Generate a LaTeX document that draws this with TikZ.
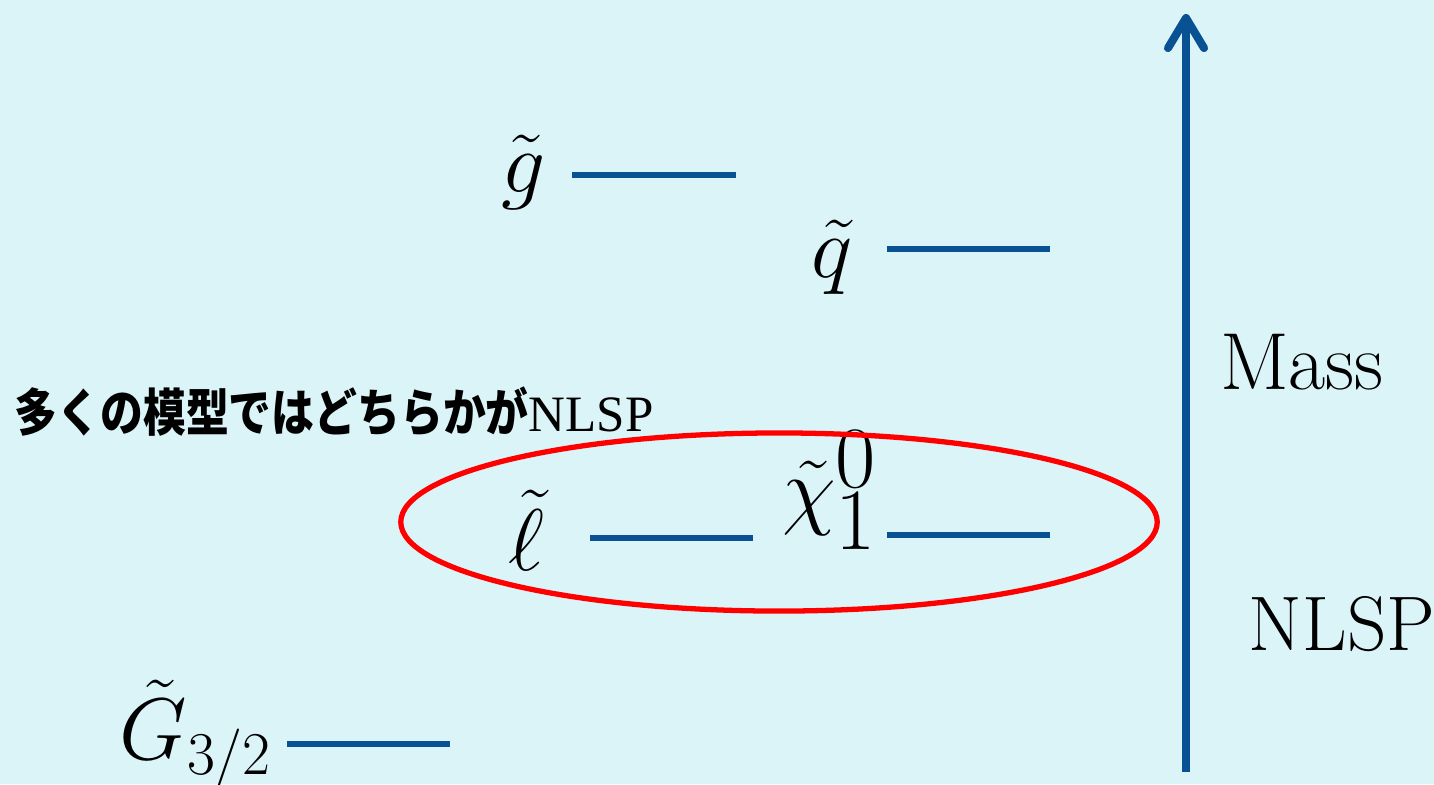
\documentclass[tikz,border=0pt]{standalone}
\usepackage{fontspec}
\newfontfamily\cjk[FakeStretch=0.84]{Noto Sans CJK JP}
\newfontfamily\timesfont{Liberation Serif}
\usetikzlibrary{shapes.geometric,positioning,arrows.meta}

\definecolor{bgcyan}{RGB}{219,244,248}
\definecolor{lvlblue}{RGB}{8,82,148}

\begin{document}
\begin{tikzpicture}[
  x=0.01cm,y=-0.01cm,
  level/.style={draw=lvlblue,line width=1.8pt},
  sparticle/.style={inner sep=0pt,font=\fontsize{23}{28}\selectfont},
  axislabel/.style={inner sep=0pt,font=\fontsize{22}{26}\selectfont},
]

% Background
\fill[bgcyan] (0,0) rectangle (1434,784);
\useasboundingbox (0,0) rectangle (1434,784);

% Mass axis
\coordinate (axbot) at (1186,772);
\coordinate (axtop) at (1186,14);
\draw[lvlblue,line width=2.3pt,-{Straight Barb[length=3mm,width=3.6mm,round]}] (axbot) -- (axtop);
\node[axislabel,font=\fontsize{23}{27}\selectfont] (mass) at (1302,362) {Mass};
\node[axislabel] (nlsplbl) at (1342,624) {NLSP};

% Gluino
\node[sparticle] (gluino) at (524,172) {$\tilde g$};
\coordinate (gl) at (572,175);
\coordinate (gr) at (736,175);
\draw[level] (gl) -- (gr);

% Squark
\node[sparticle] (squark) at (832,257) {$\tilde q$};
\coordinate (ql) at (887,249);
\coordinate (qr) at (1050,249);
\draw[level] (ql) -- (qr);

% Slepton
\node[sparticle] (slepton) at (526,530) {$\tilde \ell$};
\coordinate (ll) at (590,538);
\coordinate (lr) at (753,538);
\draw[level] (ll) -- (lr);

% Neutralino
\node[sparticle] (neutralino) at (830,490) {$\tilde\chi^{\textstyle 0}_{\textstyle 1}$};
\coordinate (nl) at (887,535);
\coordinate (nr) at (1050,535);
\draw[level] (nl) -- (nr);

% Gravitino
\node[sparticle] (gravitino) at (196,735) {$\tilde G_{3/2}$};
\coordinate (Gl) at (287,744);
\coordinate (Gr) at (450,744);
\draw[level] (Gl) -- (Gr);

% NLSP candidates
\node[draw=red,line width=1.5pt,ellipse,minimum width=7.56cm,minimum height=1.78cm] (nlspring) at (779,522) {};
\node[anchor=west,inner sep=0pt,font=\fontsize{14.5}{18}\selectfont] (note) at (14,412)
  {{\cjk\bfseries 多くの模型ではどちらかが}{\timesfont NLSP}};

\end{tikzpicture}
\end{document}
